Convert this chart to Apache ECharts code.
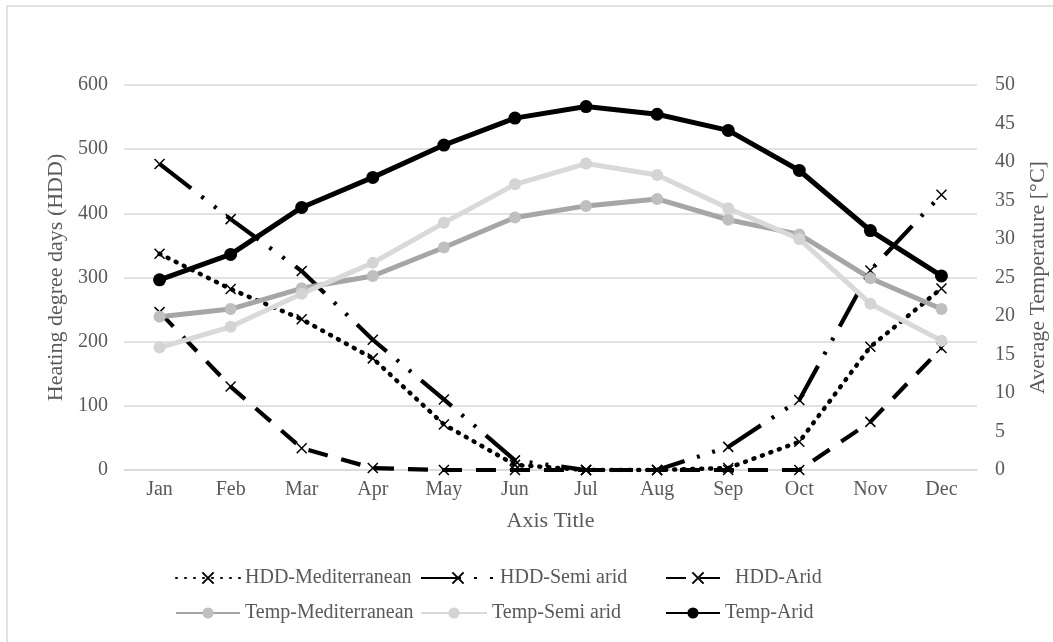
<!DOCTYPE html>
<html>
<head>
<meta charset="utf-8">
<script src="https://cdn.jsdelivr.net/npm/echarts@6/dist/echarts.min.js"></script>
<style>
  html, body { margin: 0; padding: 0; background: #fff; }
  #chart { width: 1053px; height: 642px; }
</style>
</head>
<body>
<div id="chart"></div>
<script>
const months = ['Jan', 'Feb', 'Mar', 'Apr', 'May', 'Jun', 'Jul', 'Aug', 'Sep', 'Oct', 'Nov', 'Dec'];

// heating degree days (left axis)
const hddMed = [337, 282, 235, 174, 71, 8, 0, 0, 3, 44, 192, 283];
const hddSemiArid = [477, 391, 310, 203, 110, 15, 0, 0, 36, 109, 311, 429];
const hddArid = [246, 130, 34, 3, 0, 0, 0, 0, 0, 0, 75, 190];

// average temperature in °C (right axis)
const tempMed = [19.9, 20.9, 23.6, 25.2, 28.9, 32.8, 34.3, 35.2, 32.5, 30.6, 24.9, 20.9];
const tempSemiArid = [15.9, 18.6, 22.9, 26.9, 32.1, 37.1, 39.8, 38.3, 34.0, 30.0, 21.6, 16.8];
const tempArid = [24.7, 28.0, 34.1, 38.0, 42.2, 45.7, 47.2, 46.2, 44.1, 38.9, 31.1, 25.2];

const font = "'Liberation Serif', 'Times New Roman', serif";
const grey = '#595959';
const crossSymbol = 'path://M0 0L10 10M10 0L0 10';

function hddSeries(name, data, dash, cap, width) {
    return {
        name: name,
        type: 'line',
        yAxisIndex: 0,
        data: data,
        symbol: crossSymbol,
        symbolSize: 10,
        itemStyle: { color: '#000', borderColor: '#000', borderWidth: 1.5 },
        lineStyle: { color: '#000', width: width || 4.2, type: dash, cap: cap || 'butt' }
    };
}

function tempSeries(name, data, lineColor, dotColor, size) {
    return {
        name: name,
        type: 'line',
        yAxisIndex: 1,
        data: data,
        symbol: 'circle',
        symbolSize: size,
        itemStyle: { color: dotColor, borderWidth: 0 },
        lineStyle: { color: lineColor, width: 5 }
    };
}

function legendAt(name, left, top, itemWidth) {
    return {
        data: [name],
        left: left,
        top: top,
        padding: 0,
        itemWidth: itemWidth,
        itemHeight: 14,
        selectedMode: false,
        textStyle: { fontFamily: font, fontSize: 20, color: grey }
    };
}

let mychart = echarts.init(document.getElementById('chart'));
mychart.setOption({
    animation: false,
    backgroundColor: '#fff',
    graphic: [{
        type: 'rect',
        shape: { x: 7, y: 6, width: 1100, height: 700 },
        style: { fill: 'none', stroke: '#d9d9d9', lineWidth: 1.5 },
        silent: true
    }],
    grid: { left: 124, right: 76, top: 85, bottom: 172, containLabel: false, outerBoundsMode: 'none' },
    legend: [
        legendAt('HDD-Mediterranean', 175, 568, 64),
        legendAt('HDD-Semi arid', 420, 568, 74),
        legendAt('HDD-Arid', 665, 568, 64),
        legendAt('Temp-Mediterranean', 175, 603, 64),
        legendAt('Temp-Semi arid', 420, 603, 66),
        legendAt('Temp-Arid', 665, 603, 54)
    ],
    xAxis: {
        type: 'category',
        data: months,
        axisTick: { show: false },
        axisLine: { lineStyle: { color: '#d9d9d9', width: 1.5 } },
        axisLabel: { fontFamily: font, fontSize: 20, color: grey, margin: 10 },
        name: 'Axis Title',
        nameLocation: 'middle',
        nameGap: 40,
        nameTextStyle: { fontFamily: font, fontSize: 22, color: grey }
    },
    yAxis: [
        {
            type: 'value',
            min: 0,
            max: 600,
            interval: 100,
            axisLine: { show: false },
            axisTick: { show: false },
            splitLine: { lineStyle: { color: '#d9d9d9', width: 1.5 } },
            axisLabel: { fontFamily: font, fontSize: 20, color: grey, margin: 16 },
            name: 'Heating degree days (HDD)',
            nameLocation: 'middle',
            nameRotate: 90,
            nameGap: 57,
            nameTextStyle: { fontFamily: font, fontSize: 22, color: grey }
        },
        {
            type: 'value',
            position: 'right',
            min: 0,
            max: 50,
            interval: 5,
            axisLine: { show: false },
            axisTick: { show: false },
            splitLine: { show: false },
            axisLabel: { fontFamily: font, fontSize: 20, color: grey, margin: 18 },
            name: 'Average Temperature [°C]',
            nameLocation: 'middle',
            nameRotate: 90,
            nameGap: 50,
            nameTextStyle: { fontFamily: font, fontSize: 22, color: grey }
        }
    ],
    series: [
        hddSeries('HDD-Mediterranean', hddMed, [1, 8], 'round', 4.5),
        hddSeries('HDD-Semi arid', hddSemiArid, [40, 13, 3, 13, 3, 13]),
        hddSeries('HDD-Arid', hddArid, [20, 14]),
        tempSeries('Temp-Mediterranean', tempMed, '#a6a6a6', '#bfbfbf', 12),
        tempSeries('Temp-Semi arid', tempSemiArid, '#d9d9d9', '#d4d4d4', 12),
        tempSeries('Temp-Arid', tempArid, '#000', '#000', 13)
    ]
});
</script>
</body>
</html>
